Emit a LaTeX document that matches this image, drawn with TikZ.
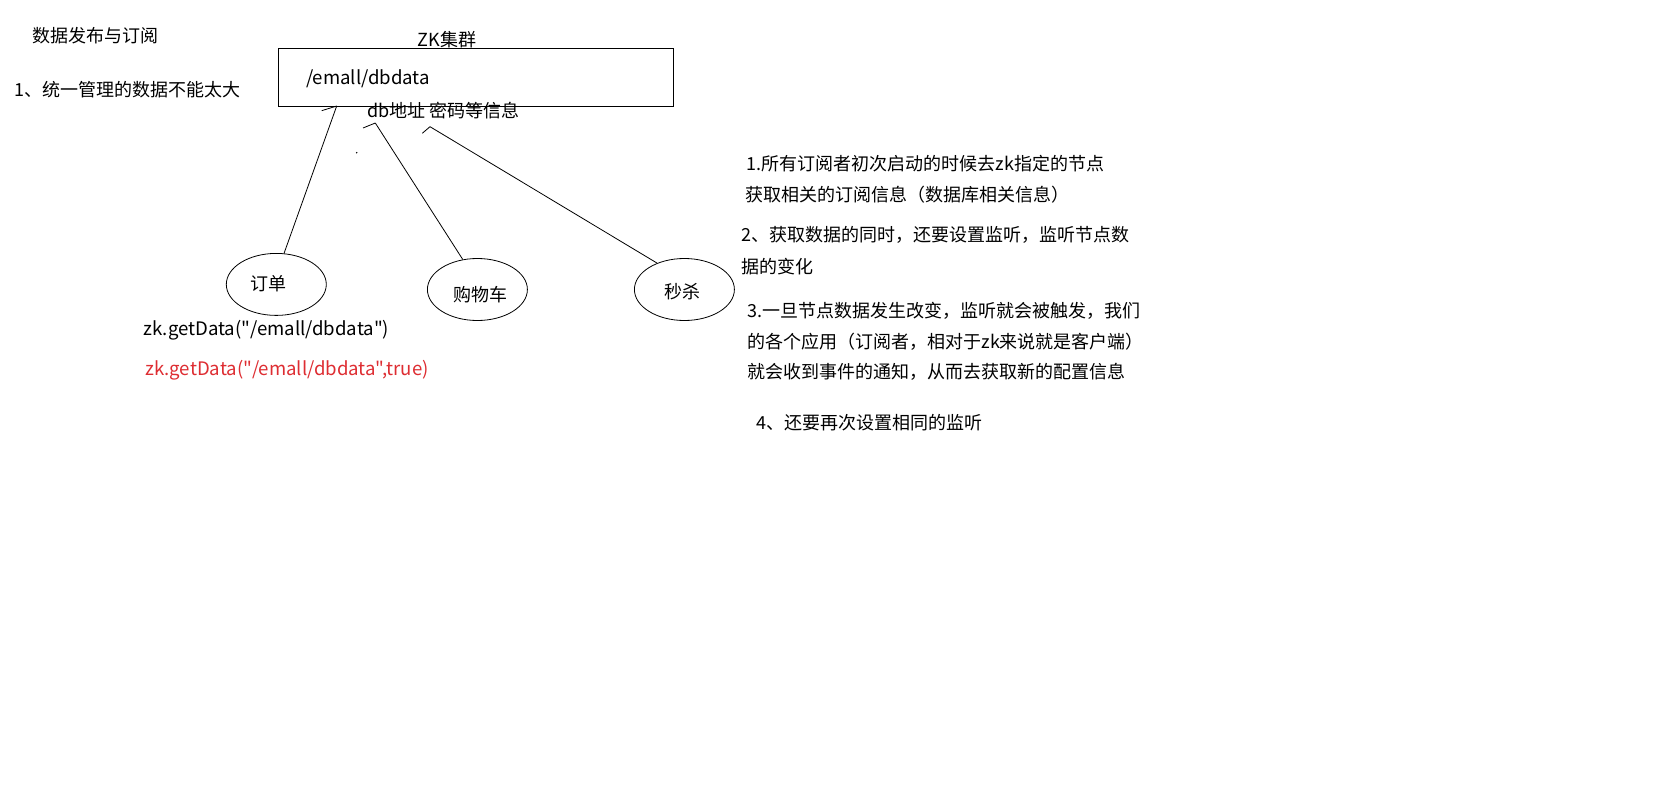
\documentclass[tikz,border=0pt]{standalone}
\usepackage{fontspec}
\setmainfont{Noto Sans CJK SC}[Ligatures=TeXOff]
\usetikzlibrary{shapes.geometric}
\definecolor{redtxt}{RGB}{222,45,50}
\begin{document}
\begin{tikzpicture}[x=1pt,y=-1pt,
  txt/.style={inner sep=0pt,anchor=west,font=\fontsize{18}{21}\selectfont},
  lat/.style={inner sep=0pt,anchor=west,font=\fontsize{18.6}{21}\selectfont},
  ctxt/.style={inner sep=0pt,font=\fontsize{18}{21}\selectfont},
  app/.style={draw,ellipse,inner sep=0pt,minimum width=100pt,minimum height=62pt,line width=0.8pt},
  conn/.style={line width=0.8pt},
]
\useasboundingbox[fill=white] (0,0) rectangle (1676,792);
% titles
\node[txt] (title) at (32.3,36) {数据发布与订阅};
\node[txt] (note1) at (14,89.3) {1、统一管理的数据不能太大};
% ZK box
\node[draw,line width=0.8pt,minimum width=395pt,minimum height=58pt,inner sep=0pt] (box) at (475.5,77) {};
\node[ctxt] (zk) at (447,40) {ZK集群};
\node[lat] (path) at (306,78.5) {/emall/dbdata};
\node[txt] (info) at (367,111) {db地址 密码等信息};
% apps
\node[app] (e1) at (276.3,284.4) {};
\node[ctxt] (l1) at (268.4,283.2) {订单};
\node[app] (e2) at (477.4,289.5) {};
\node[ctxt] (l2) at (480.7,294.7) {购物车};
\node[app] (e3) at (684.4,289.5) {};
\node[ctxt] (l3) at (682.5,292) {秒杀};
% connector tops
\coordinate (c1) at (336.7,106);
\coordinate (c2) at (375.3,123);
\coordinate (c3) at (430,126.7);
\coordinate (k1) at (321.7,110.7);
\coordinate (k2) at (363,128);
\coordinate (k3) at (422.3,133.3);
\draw[conn] (c1) -- (e1.76);
\draw[conn] (c2) -- (e2.116);
\draw[conn] (c3) -- (e3.136);
\draw[conn] (k1) -- (c1);
\draw[conn] (k2) -- (c2);
\draw[conn] (k3) -- (c3);
\fill (356.7,152.7) circle (0.8pt);
% code
\node[lat] (code1) at (143.3,330.7) {zk.getData("/emall/dbdata")};
\node[lat,text=redtxt] (code2) at (145,370.7) {zk.getData("/emall/dbdata",true)};
% notes right
\node[txt] (n1a) at (746.7,164) {1.所有订阅者初次启动的时候去zk指定的节点};
\node[txt] (n1b) at (745,195) {获取相关的订阅信息（数据库相关信息）};
\node[txt] (n2a) at (741.7,235) {2、获取数据的同时，还要设置监听，监听节点数};
\node[txt] (n2b) at (741.7,266.7) {据的变化};
\node[txt] (n3a) at (747.3,310.7) {3.一旦节点数据发生改变，监听就会被触发，我们};
\node[txt] (n3b) at (747.3,341.7) {的各个应用（订阅者，相对于zk来说就是客户端）};
\node[txt] (n3c) at (747.3,371.7) {就会收到事件的通知，从而去获取新的配置信息};
\node[txt] (n4) at (756,422.7) {4、还要再次设置相同的监听};
\end{tikzpicture}
\end{document}
